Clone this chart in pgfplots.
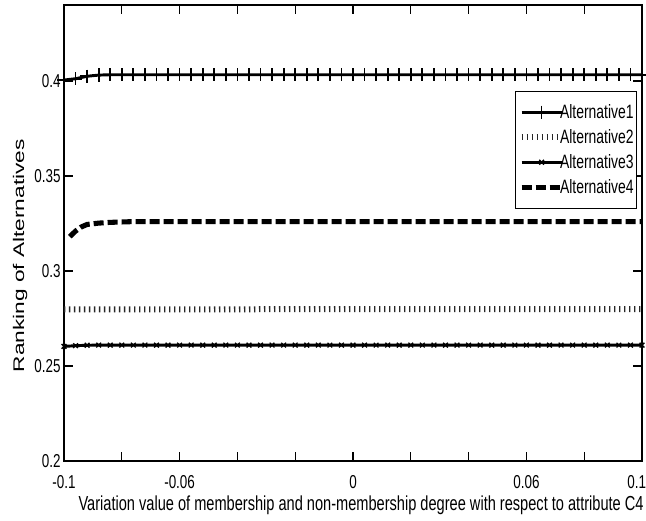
\documentclass[border=0pt]{standalone}
\usepackage{fontspec}
\setmainfont{Liberation Sans}
\newfontfamily\narrowfont{Liberation Sans}[FakeStretch=0.72]
\usepackage{graphicx}
\usepackage{pgfplots}
\pgfplotsset{compat=1.18}
\usepackage{pgfplotstable}

\pgfplotstableread{
x a1 a3
-0.100 0.4005 0.2603
-0.096 0.4012 0.2607
-0.092 0.4025 0.2609
-0.088 0.4031 0.2610
-0.084 0.4033 0.2610
-0.080 0.4033 0.2610
-0.076 0.4033 0.2610
-0.072 0.4033 0.2610
-0.068 0.4033 0.2610
-0.064 0.4033 0.2610
-0.060 0.4033 0.2610
-0.056 0.4033 0.2610
-0.052 0.4033 0.2610
-0.048 0.4033 0.2610
-0.044 0.4033 0.2610
-0.040 0.4033 0.2610
-0.036 0.4033 0.2610
-0.032 0.4033 0.2610
-0.028 0.4033 0.2610
-0.024 0.4033 0.2610
-0.020 0.4033 0.2610
-0.016 0.4033 0.2610
-0.012 0.4033 0.2610
-0.008 0.4033 0.2610
-0.004 0.4033 0.2610
0.000 0.4033 0.2610
0.004 0.4033 0.2610
0.008 0.4033 0.2610
0.012 0.4033 0.2610
0.016 0.4033 0.2610
0.020 0.4033 0.2610
0.024 0.4033 0.2610
0.028 0.4033 0.2610
0.032 0.4033 0.2610
0.036 0.4033 0.2610
0.040 0.4033 0.2610
0.044 0.4033 0.2610
0.048 0.4033 0.2610
0.052 0.4033 0.2610
0.056 0.4033 0.2610
0.060 0.4033 0.2610
0.064 0.4033 0.2610
0.068 0.4033 0.2610
0.072 0.4033 0.2610
0.076 0.4033 0.2610
0.080 0.4033 0.2610
0.084 0.4033 0.2610
0.088 0.4033 0.2610
0.092 0.4033 0.2610
0.096 0.4033 0.2610
0.100 0.4033 0.2610
}\tabA

\pgfplotstableread{
x a2
-0.100 0.2798
-0.050 0.2798
0.000 0.2800
0.050 0.2800
0.100 0.2800
}\tabB

\pgfplotstableread{
x a4
-0.098 0.3181
-0.096 0.3210
-0.094 0.3232
-0.092 0.3245
-0.088 0.3252
-0.084 0.3256
-0.080 0.3258
-0.076 0.3260
-0.060 0.3260
-0.040 0.3260
-0.020 0.3260
0.000 0.3260
0.020 0.3260
0.040 0.3260
0.060 0.3260
0.080 0.3260
0.100 0.3260
}\tabD

\begin{document}
\begin{tikzpicture}
\begin{axis}[
  scale only axis, width=433.5pt, height=342pt,
  xmin=-0.1, xmax=0.1, ymin=0.2, ymax=0.44,
  xtick={-0.1,-0.08,-0.06,-0.04,-0.02,0,0.02,0.04,0.06,0.08,0.1},
  xticklabels={-0.1,,-0.06,,,0,,,0.06,,\makebox[0pt][r]{0.1\hspace{-3pt}}},
  ytick={0.2,0.25,0.3,0.35,0.4},
  yticklabels={0.2,0.25,0.3,0.35,0.4},
  tick align=inside, major tick length=6.5pt,
  tick style={black, line width=0.8pt},
  axis line style={line width=0.8pt},
  ticklabel style={font=\narrowfont\fontsize{14}{16}\selectfont},
  xticklabel style={yshift=-7pt},
  yticklabel style={xshift=1pt},
  every axis x label/.style={at={(axis description cs:0.514,-0.0965)},anchor=center},
  every axis y label/.style={at={(axis description cs:-0.076,0.45)},rotate=90,anchor=center},
  xlabel={Variation value of membership and non-membership degree with respect to attribute C4},
  xlabel style={font=\narrowfont\fontsize{15.2}{17}\selectfont},
  ylabel={\scalebox{1}[0.68]{\fontsize{17}{20}\selectfont Ranking of Alternatives}},
  legend style={at={(axis description cs:0.991,0.811)}, anchor=north east,
    draw=black, line width=0.6pt, font=\narrowfont\fontsize{14.5}{16}\selectfont,
    nodes={inner sep=0.6pt},
    /tikz/every odd column/.style={column sep=-4pt},
    row sep=5.5pt, inner xsep=1.5pt, inner ysep=9pt},
  legend cell align=left,
  legend image code/.code={\path (-1pt,0pt); \draw[mark repeat=2,mark phase=2] plot coordinates {(0pt,0pt) (15pt,0pt) (30pt,0pt)};},
]
\addplot[black, line width=2.2pt, mark=+, mark size=5pt, mark options={line width=1.3pt}] table[x=x,y=a1]{\tabA};
\addlegendentry{Alternative1}
\addplot[black!85, line width=4.5pt, dash pattern=on 1pt off 2.75pt] table[x=x,y=a2]{\tabB};
\addlegendentry{Alternative2}
\addplot[black, line width=2.2pt, mark=x, mark size=2.5pt, mark options={line width=1pt}] table[x=x,y=a3]{\tabA};
\addlegendentry{Alternative3}
\addplot[black, line width=3.8pt, dash pattern=on 7.5pt off 3pt] table[x=x,y=a4]{\tabD};
\addlegendentry{Alternative4}
\end{axis}
\pgfresetboundingbox
\path (current axis.south west) ++(-48pt,-45pt);
\path (current axis.north east) ++(3pt,3.75pt);
\end{tikzpicture}
\end{document}
